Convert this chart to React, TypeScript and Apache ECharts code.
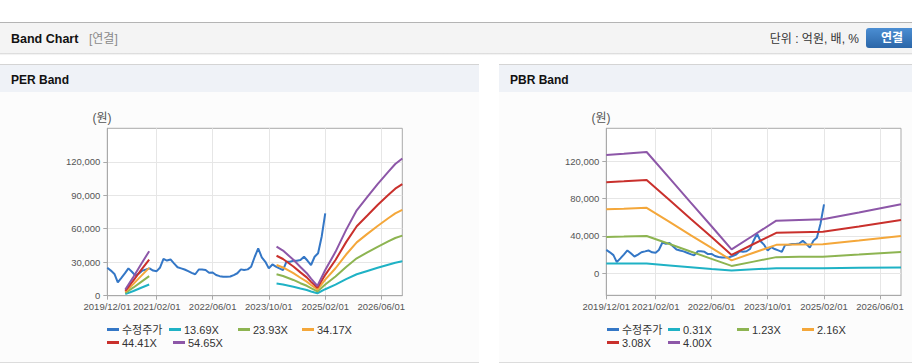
import React, { useEffect, useRef } from 'react';
import * as echarts from 'echarts';

// ---------- axes ----------
const X_MIN = '2019/12/01';
const X_MAX = '2026/12/01';
const X_TICKS = ['2019/12/01', '2021/02/01', '2022/06/01', '2023/10/01', '2025/02/01', '2026/06/01'];
const PER_Y_MIN = 0;
const PER_Y_MAX = 150000;
const PER_Y_TICKS = [0, 30000, 60000, 90000, 120000];
const PBR_Y_MIN = -23600;
const PBR_Y_MAX = 155400;
const PBR_Y_TICKS = [0, 40000, 80000, 120000];

// ---------- price (수정주가), monthly from 2019/12/01 ----------
const PRICE_START = '2019/12/01';
const PRICE = [
  25000, 22500, 19500, 12000, 16000, 20000, 24500, 21500, 18000, 20000,
  22500, 23500, 24500, 22500, 22000, 25000, 33000, 31500, 32500, 29000,
  25500, 24500, 23500, 22000, 20500, 19200, 23500, 23500, 23000, 20600,
  20800, 18500, 17500, 17000, 17000, 17200, 18500, 20100, 23600, 23000,
  23600, 26000, 34900, 42400, 34400, 30400, 24500, 28000, 26000, 24500,
  23000, 30400, 30500, 31300, 31300, 32000, 34900, 31300, 27500, 34900,
  38000, 52800, 73800,
];

// ---------- PER band ----------
const PER_NAMES = ['13.69X', '23.93X', '34.17X', '44.41X', '54.65X'];
const PER_SEG1_DATES = ['2020/05/05', '2020/07/15', '2020/09/20', '2020/11/28'];
const PER_SEG2_DATES = [
  '2023/12/07', '2024/02/01', '2024/05/01', '2024/07/01', '2024/08/25', '2024/10/01',
  '2024/11/25', '2025/02/01', '2025/05/01', '2025/08/01', '2025/11/01', '2026/02/01',
  '2026/05/01', '2026/08/01', '2026/10/01', '2026/12/01',
];
const PER_1369_SEG1 = [1400, 4200, 7100, 10000];
const PER_2393_SEG1 = [2400, 7400, 12400, 17500];
const PER_3417_SEG1 = [3400, 10600, 17800, 24900];
const PER_4441_SEG1 = [4400, 13800, 23100, 32400];
const PER_5465_SEG1 = [5500, 16900, 28400, 39900];
const PER_1369_SEG2 = [11000, 10100, 8100, 6400, 5100, 3800, 2200, 5800, 9900, 14800, 19200, 22200, 25100, 27800, 29600, 30800];
const PER_2393_SEG2 = [19300, 17700, 14100, 11200, 8900, 6700, 3800, 10100, 17200, 25800, 33500, 38800, 43800, 48600, 51700, 53800];
const PER_3417_SEG2 = [27500, 25300, 20200, 16100, 12600, 9600, 5500, 14400, 24600, 36900, 47800, 55400, 62500, 69400, 73800, 76900];
const PER_4441_SEG2 = [35800, 32900, 26200, 20900, 16400, 12400, 7100, 18700, 32000, 48000, 62200, 71900, 81300, 90200, 95900, 99900];
const PER_5465_SEG2 = [44000, 40400, 32200, 25700, 20200, 15300, 8700, 23000, 39300, 59000, 76500, 88500, 100000, 110900, 118000, 123000];

// ---------- PBR band ----------
const PBR_NAMES = ['0.31X', '1.23X', '2.16X', '3.08X', '4.00X'];
const PBR_DATES = [
  '2019/12/01', '2020/05/01', '2020/11/15', '2021/06/01', '2021/12/01', '2022/06/01',
  '2022/11/22', '2023/06/01', '2023/12/15', '2024/07/01', '2025/01/22', '2025/12/01', '2026/12/01',
];
const PBR_031 = [10400, 10400, 10400, 8400, 6500, 4500, 2900, 4200, 5400, 5400, 5400, 5800, 6100];
const PBR_123 = [39000, 39400, 40000, 31400, 23400, 15500, 7900, 12500, 17300, 17600, 17800, 20000, 22800];
const PBR_216 = [68500, 69100, 70200, 55100, 41000, 27200, 13800, 22000, 30500, 30900, 31200, 35200, 40000];
const PBR_308 = [97600, 98600, 100100, 78500, 58500, 38800, 19700, 31400, 43400, 44000, 44500, 50200, 57000];
const PBR_400 = [126800, 128000, 130000, 102000, 76000, 50400, 25600, 40800, 56400, 57200, 57800, 65200, 74000];

const PRICE_NAME = '수정주가';
const COLORS = ['#3477c6', '#1fb2c5', '#8db451', '#f4a73a', '#c9302c', '#8d57a8'];

const FONT = "'Liberation Sans', 'Noto Sans CJK KR', sans-serif";

const ts = (s: string) => {
  const [y, m, d] = s.split('/').map(Number);
  return Date.UTC(y, m - 1, d);
};
const pad = (n: number) => String(n).padStart(2, '0');
const fmtDate = (v: number) => {
  const d = new Date(v);
  return `${d.getUTCFullYear()}/${pad(d.getUTCMonth() + 1)}/${pad(d.getUTCDate())}`;
};
const fmtNum = (v: number) => String(v).replace(/\B(?=(\d{3})+(?!\d))/g, ',');
const monthly = (start: string, n: number) => {
  const [y, m] = start.split('/').map(Number);
  const out: number[] = [];
  for (let i = 0; i < n; i++) out.push(Date.UTC(y, m - 1 + i, 1));
  return out;
};
const pairs = (dates: number[], vals: number[]) => vals.map((v, i) => [dates[i], v]);

function lineSeries(name: string, color: string, data: any[], idx: number) {
  return {
    type: 'line',
    name,
    xAxisIndex: idx,
    yAxisIndex: idx,
    data,
    color,
    showSymbol: false,
    symbol: 'none',
    silent: true,
    lineStyle: { width: 2, color },
    itemStyle: { color },
  };
}

function xAxis(idx: number) {
  const ticks = X_TICKS.map(ts);
  return {
    type: 'value',
    gridIndex: idx,
    min: ts(X_MIN),
    max: ts(X_MAX),
    axisLine: { show: true, onZero: false, lineStyle: { color: '#a9a9a9', width: 1 } },
    axisTick: { show: true, length: 4, customValues: ticks, lineStyle: { color: '#a9a9a9' } },
    axisLabel: {
      customValues: ticks,
      formatter: (v: number) => fmtDate(v),
      color: '#555',
      fontSize: 9.5,
      fontFamily: FONT,
      margin: 6,
      showMinLabel: true,
      showMaxLabel: true,
      hideOverlap: false,
    },
    splitLine: { show: true, lineStyle: { color: '#e6e6e6', width: 1 } },
  };
}

function yAxis(idx: number, min: number, max: number, ticks: number[]) {
  return {
    type: 'value',
    gridIndex: idx,
    min,
    max,
    axisLine: { show: true, onZero: false, lineStyle: { color: '#a9a9a9', width: 1 } },
    axisTick: { show: true, length: 4, customValues: ticks, lineStyle: { color: '#a9a9a9' } },
    axisLabel: {
      customValues: ticks,
      formatter: (v: number) => fmtNum(v),
      color: '#555',
      fontSize: 9.5,
      fontFamily: FONT,
      margin: 7,
      showMinLabel: true,
    },
    splitLine: { show: true, lineStyle: { color: '#e6e6e6', width: 1 } },
  };
}

function legendItem(name: string, left: number, top: number) {
  return {
    data: [name],
    left,
    top,
    orient: 'horizontal',
    padding: 0,
    itemGap: 0,
    icon: 'rect',
    itemWidth: 12,
    itemHeight: 3,
    textStyle: { fontSize: 11, color: '#333', fontFamily: FONT, padding: [0, 0, 0, -2] },
  };
}

function buildOption() {
  const priceData = pairs(monthly(PRICE_START, PRICE.length), PRICE);
  const s1 = PER_SEG1_DATES.map(ts);
  const s2 = PER_SEG2_DATES.map(ts);
  const perSeg1 = [PER_1369_SEG1, PER_2393_SEG1, PER_3417_SEG1, PER_4441_SEG1, PER_5465_SEG1];
  const perSeg2 = [PER_1369_SEG2, PER_2393_SEG2, PER_3417_SEG2, PER_4441_SEG2, PER_5465_SEG2];
  const pbrD = PBR_DATES.map(ts);
  const pbrVals = [PBR_031, PBR_123, PBR_216, PBR_308, PBR_400];

  const series: any[] = [];
  series.push(lineSeries(PRICE_NAME, COLORS[0], priceData, 0));
  PER_NAMES.forEach((n, i) => {
    series.push(lineSeries(n, COLORS[i + 1], pairs(s1, perSeg1[i]), 0));
    series.push(lineSeries(n, COLORS[i + 1], pairs(s2, perSeg2[i]), 0));
  });
  series.push(lineSeries(PRICE_NAME, COLORS[0], priceData, 1));
  PBR_NAMES.forEach((n, i) => {
    series.push(lineSeries(n, COLORS[i + 1], pairs(pbrD, pbrVals[i]), 1));
  });

  const r1 = 324;
  const r2 = 337;
  const legends = [
    legendItem(PRICE_NAME, 107, r1),
    legendItem(PER_NAMES[0], 169, r1),
    legendItem(PER_NAMES[1], 238, r1),
    legendItem(PER_NAMES[2], 302, r1),
    legendItem(PER_NAMES[3], 107, r2),
    legendItem(PER_NAMES[4], 173, r2),
    legendItem(PRICE_NAME, 607, r1),
    legendItem(PBR_NAMES[0], 668, r1),
    legendItem(PBR_NAMES[1], 737, r1),
    legendItem(PBR_NAMES[2], 802, r1),
    legendItem(PBR_NAMES[3], 607, r2),
    legendItem(PBR_NAMES[4], 668, r2),
  ];

  const bg = (x: number, y: number, w: number, h: number, fill: any, z = -10) => ({
    type: 'rect', silent: true, z, shape: { x, y, width: w, height: h }, style: { fill },
  });
  const hline = (x1: number, x2: number, y: number, stroke: string, z = -5) => ({
    type: 'line', silent: true, z, shape: { x1, y1: y, x2, y2: y }, style: { stroke, lineWidth: 1 },
  });
  const txt = (text: string, x: number, y: number, st: any) => ({
    type: 'text', silent: true, z: 5, x, y,
    style: { text, fontFamily: FONT, verticalAlign: 'middle', align: 'left', ...st },
  });

  const graphic = [
    // top header bar
    bg(0, 22, 912, 31, '#f4f4f4'),
    hline(0, 912, 22.5, '#b4b4b4'),
    bg(0, 53, 912, 3, {
      type: 'linear', x: 0, y: 0, x2: 0, y2: 1,
      colorStops: [{ offset: 0, color: '#cfcfcf' }, { offset: 1, color: 'rgba(255,255,255,0)' }],
    }, -9),
    txt('Band Chart', 11, 38.5, { fontSize: 12.5, fontWeight: 'bold', fill: '#111' }),
    txt('[연결]', 89, 38.5, { fontSize: 12, fill: '#8a8a8a' }),
    txt('단위 : 억원, 배, %', 859, 38.5, { fontSize: 12, fill: '#333', align: 'right' }),
    {
      type: 'rect', silent: true, z: 4, shape: { x: 866, y: 28, width: 60, height: 20, r: 3 },
      style: {
        fill: {
          type: 'linear', x: 0, y: 0, x2: 0, y2: 1,
          colorStops: [{ offset: 0, color: '#4b8ed3' }, { offset: 1, color: '#2b66a8' }],
        },
      },
    },
    txt('연결', 892, 38, { fontSize: 12, fontWeight: 'bold', fill: '#ffffff', align: 'center' }),
    // PER panel
    bg(0, 64, 479, 28, '#eff2f7'),
    bg(0, 92, 479, 270, '#fcfcfc'),
    hline(0, 479, 64.5, '#d4d4d4'),
    hline(0, 479, 362.5, '#dcdcdc'),
    txt('PER Band', 11, 80, { fontSize: 12, fontWeight: 'bold', fill: '#111' }),
    txt('(원)', 102, 118, { fontSize: 12, fill: '#555', align: 'center' }),
    // PBR panel
    bg(499, 64, 413, 28, '#eff2f7'),
    bg(499, 92, 413, 270, '#fcfcfc'),
    hline(499, 912, 64.5, '#d4d4d4'),
    hline(499, 912, 362.5, '#dcdcdc'),
    txt('PBR Band', 510, 80, { fontSize: 12, fontWeight: 'bold', fill: '#111' }),
    txt('(원)', 601, 118, { fontSize: 12, fill: '#555', align: 'center' }),
  ];

  return {
    animation: false,
    backgroundColor: '#ffffff',
    textStyle: { fontFamily: FONT },
    graphic: { elements: graphic },
    grid: [
      {
        left: 107.3, top: 128.3, width: 295, height: 167.4,
        show: true, backgroundColor: '#ffffff', borderColor: '#a9a9a9', borderWidth: 1,
        containLabel: false, outerBoundsMode: 'none',
      },
      {
        left: 606.3, top: 128.3, width: 294.7, height: 167,
        show: true, backgroundColor: '#ffffff', borderColor: '#a9a9a9', borderWidth: 1,
        containLabel: false, outerBoundsMode: 'none',
      },
    ],
    xAxis: [xAxis(0), xAxis(1)],
    yAxis: [
      yAxis(0, PER_Y_MIN, PER_Y_MAX, PER_Y_TICKS),
      yAxis(1, PBR_Y_MIN, PBR_Y_MAX, PBR_Y_TICKS),
    ],
    legend: legends,
    tooltip: { show: false },
    series,
  };
}

export default function App() {
  const ref = useRef<HTMLDivElement>(null);
  useEffect(() => {
    const chart = echarts.init(ref.current as HTMLDivElement, null, {
      renderer: 'svg', width: 912, height: 364,
    });
    chart.setOption(buildOption() as any);
    return () => chart.dispose();
  }, []);
  return (
    <div
      ref={ref}
      style={{ position: 'absolute', left: 0, top: 0, width: 912, height: 364 }}
    />
  );
}
